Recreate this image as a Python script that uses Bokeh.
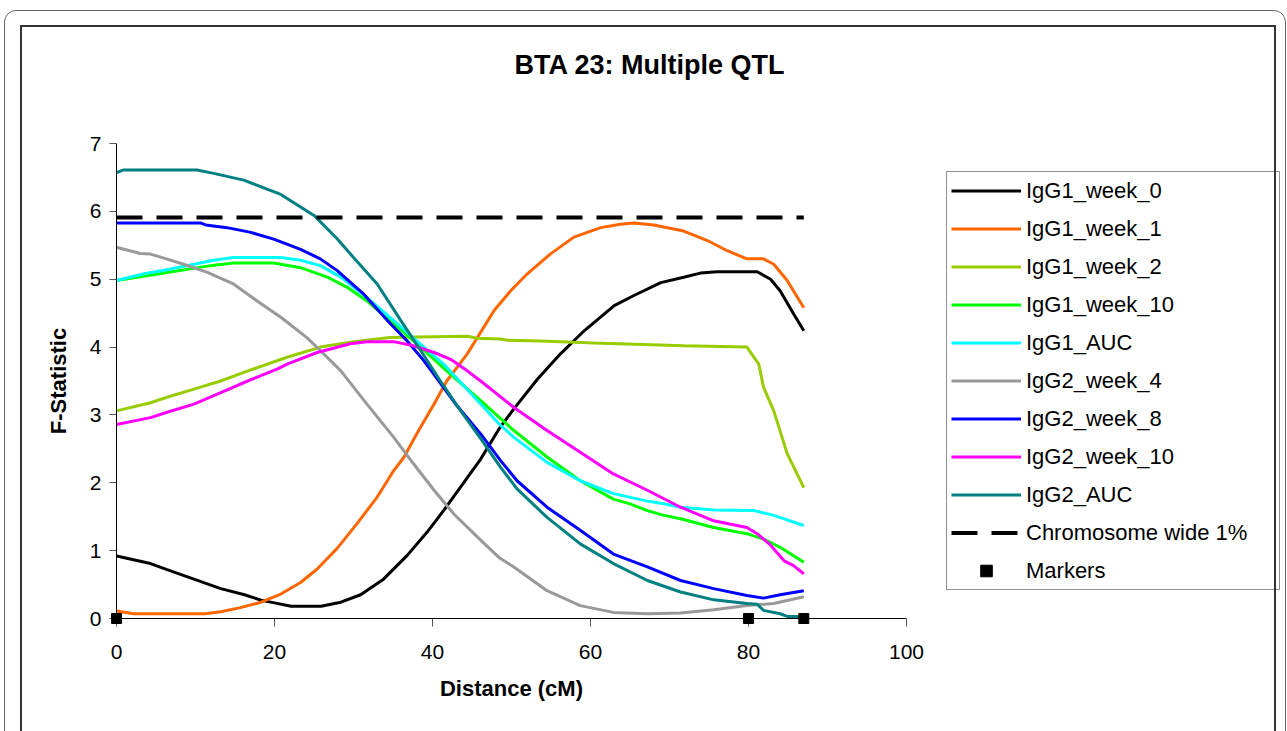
from bokeh.plotting import figure
from bokeh.models import Range1d, FixedTicker, Legend, LegendItem, GlobalInlineStyleSheet, Title
from bokeh.embed import file_html
from bokeh.resources import INLINE

title_text = "BTA 23: Multiple QTL"
x_label = "Distance (cM)"
y_label = "F-Statistic"
x_ticks = [0, 20, 40, 60, 80, 100]
y_ticks = [0, 1, 2, 3, 4, 5, 6, 7]

igg1_w0_x = [0, 4.3, 6.4, 9.8, 13.2, 16.2, 18.3, 20, 22.1, 25.9, 28.4, 30.9, 33.8, 36.8, 39.3, 41.4, 43.5, 46.1, 48.4, 50.3, 53.3, 56.2, 59.2, 63, 65.5, 68.9, 71.8, 73.9, 76, 81.1, 82.8, 84, 85.7, 87]
igg1_w0_y = [0.92, 0.81, 0.72, 0.58, 0.44, 0.35, 0.27, 0.23, 0.18, 0.18, 0.24, 0.35, 0.58, 0.93, 1.27, 1.59, 1.93, 2.35, 2.79, 3.09, 3.53, 3.90, 4.24, 4.61, 4.76, 4.95, 5.03, 5.09, 5.11, 5.11, 5.00, 4.83, 4.49, 4.24]

igg1_w1_x = [0, 2.2, 11.2, 13.2, 15.7, 18.3, 20.8, 23.3, 25.4, 27.9, 30.4, 33, 35.1, 36.4, 38.1, 40.2, 41.8, 44.4, 47.8, 49.9, 52, 54.9, 57.9, 61.3, 63.8, 65.5, 68, 71.8, 74.8, 77.3, 79.8, 81.9, 83.2, 84.9, 87]
igg1_w1_y = [0.11, 0.07, 0.07, 0.10, 0.16, 0.24, 0.36, 0.53, 0.73, 1.03, 1.39, 1.79, 2.18, 2.38, 2.74, 3.16, 3.50, 3.90, 4.54, 4.83, 5.08, 5.37, 5.62, 5.76, 5.81, 5.83, 5.80, 5.71, 5.57, 5.42, 5.30, 5.30, 5.22, 4.98, 4.58]

igg1_w2_x = [0, 4.3, 6.4, 9.8, 13.2, 16.2, 17.4, 21.6, 25.8, 30, 34.6, 38, 44.4, 45.6, 48.6, 49.5, 53.7, 60.4, 71.8, 79.8, 81.3, 81.9, 83.2, 84.9, 87]
igg1_w2_y = [3.06, 3.18, 3.26, 3.38, 3.50, 3.63, 3.68, 3.85, 4.00, 4.08, 4.14, 4.15, 4.16, 4.13, 4.12, 4.10, 4.09, 4.06, 4.02, 4.00, 3.75, 3.41, 3.06, 2.43, 1.93]

igg1_w10_x = [0, 6.4, 11.9, 14.8, 19.9, 23.3, 26.7, 29.2, 31.7, 34.6, 38, 41.8, 46.1, 50.3, 54.5, 58.7, 62.9, 65, 67.2, 69.3, 71.4, 75.6, 79.8, 81.9, 84, 87]
igg1_w10_y = [4.98, 5.10, 5.20, 5.24, 5.24, 5.17, 5.03, 4.88, 4.68, 4.39, 4.05, 3.65, 3.21, 2.77, 2.38, 2.03, 1.76, 1.69, 1.59, 1.52, 1.47, 1.34, 1.25, 1.17, 1.05, 0.83]

igg1_auc_x = [0, 3.5, 6.4, 9.8, 12.3, 14.8, 20.8, 23.3, 25.8, 28.4, 31.7, 35.1, 38, 41.4, 46.1, 48.4, 50.3, 54.5, 58.7, 62.9, 67.2, 69.3, 71.4, 75.6, 80.7, 83.2, 87]
igg1_auc_y = [4.98, 5.08, 5.14, 5.22, 5.28, 5.32, 5.32, 5.28, 5.20, 5.03, 4.73, 4.39, 4.09, 3.75, 3.16, 2.87, 2.67, 2.30, 2.03, 1.84, 1.73, 1.69, 1.64, 1.60, 1.59, 1.52, 1.37]

igg2_w4_x = [0, 3, 4.3, 6, 8.5, 11.5, 14.8, 17.8, 20.8, 24.1, 25.8, 28.4, 31.7, 35.1, 37.6, 40.2, 42.7, 45.7, 48.4, 50.3, 54.5, 58.7, 62.9, 67.2, 71.4, 75.6, 79.8, 83.2, 87]
igg2_w4_y = [5.47, 5.38, 5.37, 5.31, 5.22, 5.10, 4.93, 4.68, 4.44, 4.14, 3.95, 3.65, 3.16, 2.67, 2.28, 1.89, 1.54, 1.20, 0.90, 0.76, 0.41, 0.19, 0.09, 0.07, 0.08, 0.13, 0.19, 0.22, 0.32]

igg2_w8_x = [0, 10.6, 11.3, 14, 17, 19.9, 23.3, 25.8, 27.9, 31.3, 34.3, 36.8, 38.9, 40.6, 43, 46.1, 48.6, 50.7, 54.5, 58.7, 62.9, 67.2, 71.4, 75.6, 79.8, 81.9, 84, 87]
igg2_w8_y = [5.83, 5.83, 5.80, 5.76, 5.69, 5.59, 5.44, 5.30, 5.13, 4.78, 4.39, 4.09, 3.80, 3.53, 3.15, 2.72, 2.33, 2.03, 1.64, 1.30, 0.95, 0.76, 0.56, 0.44, 0.34, 0.30, 0.35, 0.41]

igg2_w10_x = [0, 4.3, 6.4, 9.8, 13.2, 16.6, 20.4, 21.6, 25.4, 29.6, 31.7, 35.1, 37.6, 40.2, 42.3, 44.4, 46.1, 50.3, 54.5, 58.7, 62.9, 67.2, 71.4, 75.6, 79.8, 81.1, 82.8, 84.5, 85.7, 87]
igg2_w10_y = [2.86, 2.96, 3.04, 3.16, 3.33, 3.50, 3.68, 3.75, 3.92, 4.05, 4.08, 4.08, 4.02, 3.92, 3.82, 3.65, 3.50, 3.11, 2.77, 2.45, 2.13, 1.89, 1.64, 1.44, 1.34, 1.25, 1.08, 0.85, 0.78, 0.66]

igg2_auc_x = [0, 0.9, 10.2, 12.3, 16.1, 20.8, 25, 27.9, 30, 33, 36, 38.5, 41, 43.5, 46.1, 48.6, 50.7, 54.5, 58.7, 62.9, 67.2, 71.4, 75.6, 79.8, 81.1, 81.9, 84, 84.9, 87]
igg2_auc_y = [6.57, 6.61, 6.61, 6.56, 6.46, 6.25, 5.94, 5.60, 5.32, 4.93, 4.39, 3.95, 3.50, 3.07, 2.65, 2.23, 1.91, 1.49, 1.10, 0.81, 0.56, 0.39, 0.275, 0.22, 0.21, 0.12, 0.07, 0.03, 0.03]

threshold_x = [0, 87]
threshold_y = [5.91, 5.91]

marker_x = [0, 80, 87]
marker_y = [0, 0, 0]

series_names = ["IgG1_week_0", "IgG1_week_1", "IgG1_week_2", "IgG1_week_10", "IgG1_AUC",
                "IgG2_week_4", "IgG2_week_8", "IgG2_week_10", "IgG2_AUC"]
series_colors = ["#000000", "#FF6600", "#99CC00", "#00FF00", "#00FFFF",
                 "#999999", "#0000FF", "#FF00FF", "#008080"]
series_x = [igg1_w0_x, igg1_w1_x, igg1_w2_x, igg1_w10_x, igg1_auc_x, igg2_w4_x, igg2_w8_x, igg2_w10_x, igg2_auc_x]
series_y = [igg1_w0_y, igg1_w1_y, igg1_w2_y, igg1_w10_y, igg1_auc_y, igg2_w4_y, igg2_w8_y, igg2_w10_y, igg2_auc_y]

FONT = "Liberation Sans"

frame_css = """
html, body { overflow: hidden !important; }
body::before { content: ""; position: fixed; left: 4px; top: 10px; width: 1282px; height: 780px;
  border: 1px solid #666666; border-radius: 12px; box-sizing: border-box; pointer-events: none; z-index: 100; }
body::after { content: ""; position: fixed; left: 20px; top: 25px; width: 1256px; height: 780px;
  border: 2px solid #333333; box-sizing: border-box; pointer-events: none; z-index: 100; }
"""

p = figure(title=None, frame_width=790, frame_height=475, output_backend="svg", toolbar_location=None,
           x_range=Range1d(0, 100), y_range=Range1d(0, 7),
           min_border_left=116, min_border_right=381, min_border_top=143, min_border_bottom=113)
p.stylesheets = [GlobalInlineStyleSheet(css=frame_css)]
p.outline_line_color = None
p.grid.visible = False
p.background_fill_color = "white"
p.border_fill_color = "white"

# blank spacer between the frame and the title (closest to the frame)
spacer = Title(text=" ", text_font_size="2px", standoff=60, text_color="white", text_alpha=1)
p.add_layout(spacer, "above")
main_title = Title(text=title_text, align="left", vertical_align="bottom", offset=398, standoff=0,
                   text_font=FONT, text_font_style="bold", text_font_size="27px", text_color="black")
p.add_layout(main_title, "above")

p.xaxis.ticker = FixedTicker(ticks=x_ticks)
p.yaxis.ticker = FixedTicker(ticks=y_ticks)
p.xaxis.axis_label = x_label
p.yaxis.axis_label = y_label
for ax in (p.xaxis, p.yaxis):
    ax.axis_label_text_font = FONT
    ax.axis_label_text_font_style = "bold"
    ax.axis_label_text_font_size = "22px"
    ax.axis_label_text_color = "black"
    ax.major_label_text_font = FONT
    ax.major_label_text_font_size = "21px"
    ax.major_label_text_color = "black"
    ax.major_tick_in = 0
    ax.minor_tick_in = 0
    ax.minor_tick_out = 0
    ax.axis_line_color = "black"
    ax.axis_line_width = 1
    ax.major_tick_line_color = "#555555"
p.xaxis.major_tick_out = 8
p.xaxis.major_label_standoff = 18
p.xaxis.axis_label_standoff = 14
p.yaxis.major_tick_out = 7
p.yaxis.major_label_standoff = 8
p.yaxis.axis_label_standoff = 16

items = []
for name, col, xs, ys in zip(series_names, series_colors, series_x, series_y):
    r = p.line(xs, ys, line_color=col, line_width=3)
    items.append(LegendItem(label=name, renderers=[r]))

rt = p.line(threshold_x, threshold_y, line_color="black", line_width=4, line_dash="26 14")
items.append(LegendItem(label="Chromosome wide 1%", renderers=[rt]))
rm = p.scatter(marker_x, marker_y, marker="square", size=10, color="black", level="overlay")
items.append(LegendItem(label="Markers", renderers=[rm]))

legend = Legend(items=items, location=(40, 28),
                label_text_font=FONT, label_text_font_size="22px", label_text_color="black",
                glyph_width=70, glyph_height=29, label_height=29, label_width=249,
                spacing=9, padding=4, margin=20, label_standoff=5,
                border_line_color="#222222", border_line_width=1.2,
                background_fill_color="white", background_fill_alpha=1)
p.add_layout(legend, "right")

open("out.html", "w").write(file_html(p, INLINE))
